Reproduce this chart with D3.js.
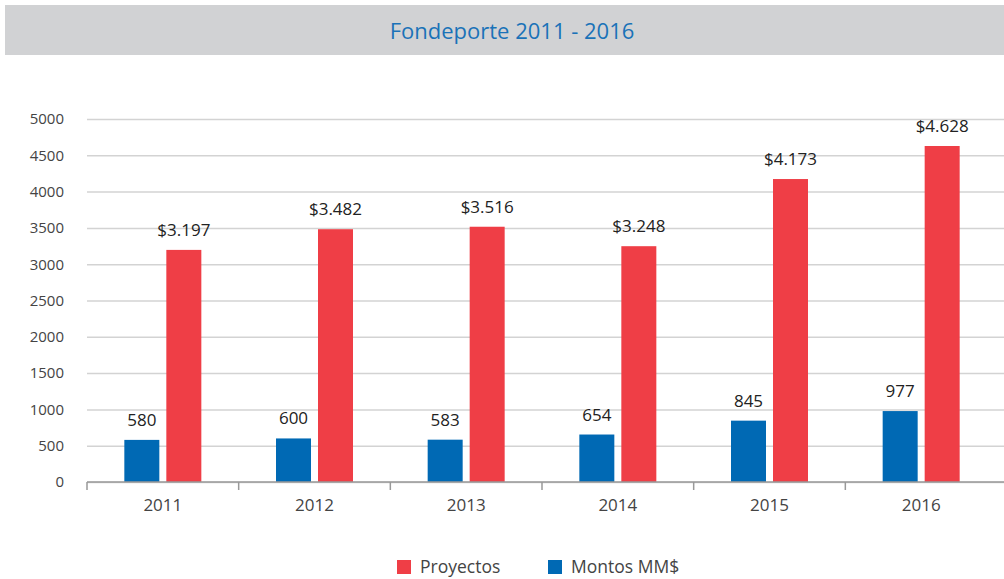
<!DOCTYPE html>
<html>
<head>
<meta charset="utf-8">
<script src="https://cdn.jsdelivr.net/npm/d3@7"></script>
<style>
  body { margin: 0; background: #fff; }
  svg { display: block; font-family: "Open Sans", sans-serif; }
</style>
</head>
<body>
<svg id="chart"></svg>
<script>
// data
const years = ["2011", "2012", "2013", "2014", "2015", "2016"];
const montos = [580, 600, 583, 654, 845, 977];
const proyectos = [3197, 3482, 3516, 3248, 4173, 4628];
const yTicks = [0, 500, 1000, 1500, 2000, 2500, 3000, 3500, 4000, 4500, 5000];

const width = 1004, height = 579;
const marginLeft = 87, marginRight = 7, marginTop = 119, marginBottom = 97;

const blue = "#0069b4", red = "#ef3e46";

const svg = d3.select("#chart")
  .attr("width", width)
  .attr("height", height)
  .attr("viewBox", [0, 0, width, height]);

// title banner
svg.append("rect")
  .attr("x", 5).attr("y", 5)
  .attr("width", width - 5).attr("height", 50)
  .attr("fill", "#d1d2d4");
svg.append("text")
  .attr("x", 512).attr("y", 39)
  .attr("text-anchor", "middle")
  .attr("fill", "#1a72b8")
  .attr("font-size", 22)
  .text("Fondeporte 2011 - 2016");

const x = d3.scaleBand()
  .domain(years)
  .range([marginLeft, width - marginRight]);

const y = d3.scaleLinear()
  .domain([0, 5000])
  .range([height - marginBottom, marginTop]);

// gridlines + y labels
svg.append("g")
  .attr("transform", `translate(${marginLeft},0)`)
  .call(d3.axisLeft(y).tickValues(yTicks).tickFormat(d3.format("d"))
    .tickSize(-(width - marginLeft)).tickPadding(23))
  .call(g => g.select(".domain").remove())
  .call(g => g.selectAll(".tick line").attr("stroke", "#d3d3d3").attr("stroke-width", 1.5))
  .call(g => g.selectAll(".tick text").attr("fill", "#444").attr("font-size", 15).attr("font-family", "Open Sans, sans-serif"));

const barW = 35, gap = 7;
const data = years.map((yr, i) => ({ yr, m: montos[i], p: proyectos[i] }));

const g = svg.append("g");
// Montos (blue)
g.selectAll(".m")
  .data(data)
  .join("rect")
  .attr("x", d => x(d.yr) + x.bandwidth() / 2 - barW - gap / 2)
  .attr("y", d => y(d.m))
  .attr("width", barW)
  .attr("height", d => y(0) - y(d.m))
  .attr("fill", blue);
// Proyectos (red)
g.selectAll(".p")
  .data(data)
  .join("rect")
  .attr("x", d => x(d.yr) + x.bandwidth() / 2 + gap / 2)
  .attr("y", d => y(d.p))
  .attr("width", barW)
  .attr("height", d => y(0) - y(d.p))
  .attr("fill", red);

// value labels
const fmt = v => "$" + d3.format(",")(v).replace(",", ".");
g.selectAll(".ml")
  .data(data)
  .join("text")
  .attr("x", d => x(d.yr) + x.bandwidth() / 2 - barW / 2 - gap / 2)
  .attr("y", d => y(d.m) - 14)
  .attr("text-anchor", "middle")
  .attr("font-size", 17)
  .attr("fill", "#222")
  .text(d => d.m);
g.selectAll(".pl")
  .data(data)
  .join("text")
  .attr("x", d => x(d.yr) + x.bandwidth() / 2 + barW / 2 + gap / 2)
  .attr("y", d => y(d.p) - 14)
  .attr("text-anchor", "middle")
  .attr("font-size", 17)
  .attr("fill", "#222")
  .text(d => fmt(d.p));

// x axis
const xAxis = svg.append("g")
  .attr("transform", `translate(0,${y(0)})`);
xAxis.append("line")
  .attr("x1", marginLeft).attr("x2", width)
  .attr("stroke", "#999").attr("stroke-width", 1.5);
xAxis.selectAll(".tk")
  .data(years)
  .join("line")
  .attr("x1", d => x(d)).attr("x2", d => x(d))
  .attr("y1", 0).attr("y2", 8)
  .attr("stroke", "#999").attr("stroke-width", 1.5);
xAxis.selectAll(".lb")
  .data(years)
  .join("text")
  .attr("x", d => x(d) + x.bandwidth() / 2)
  .attr("y", 29)
  .attr("text-anchor", "middle")
  .attr("font-size", 17)
  .attr("fill", "#444")
  .text(d => d);

// legend
const legend = [
  { label: "Proyectos", color: red, x: 397 },
  { label: "Montos MM$", color: blue, x: 548 }
];
const lg = svg.append("g");
lg.selectAll("rect")
  .data(legend)
  .join("rect")
  .attr("x", d => d.x).attr("y", 560)
  .attr("width", 14).attr("height", 14)
  .attr("fill", d => d.color);
lg.selectAll("text")
  .data(legend)
  .join("text")
  .attr("x", d => d.x + 23).attr("y", 573)
  .attr("font-size", 17.5)
  .attr("fill", "#444")
  .text(d => d.label);
</script>
</body>
</html>
